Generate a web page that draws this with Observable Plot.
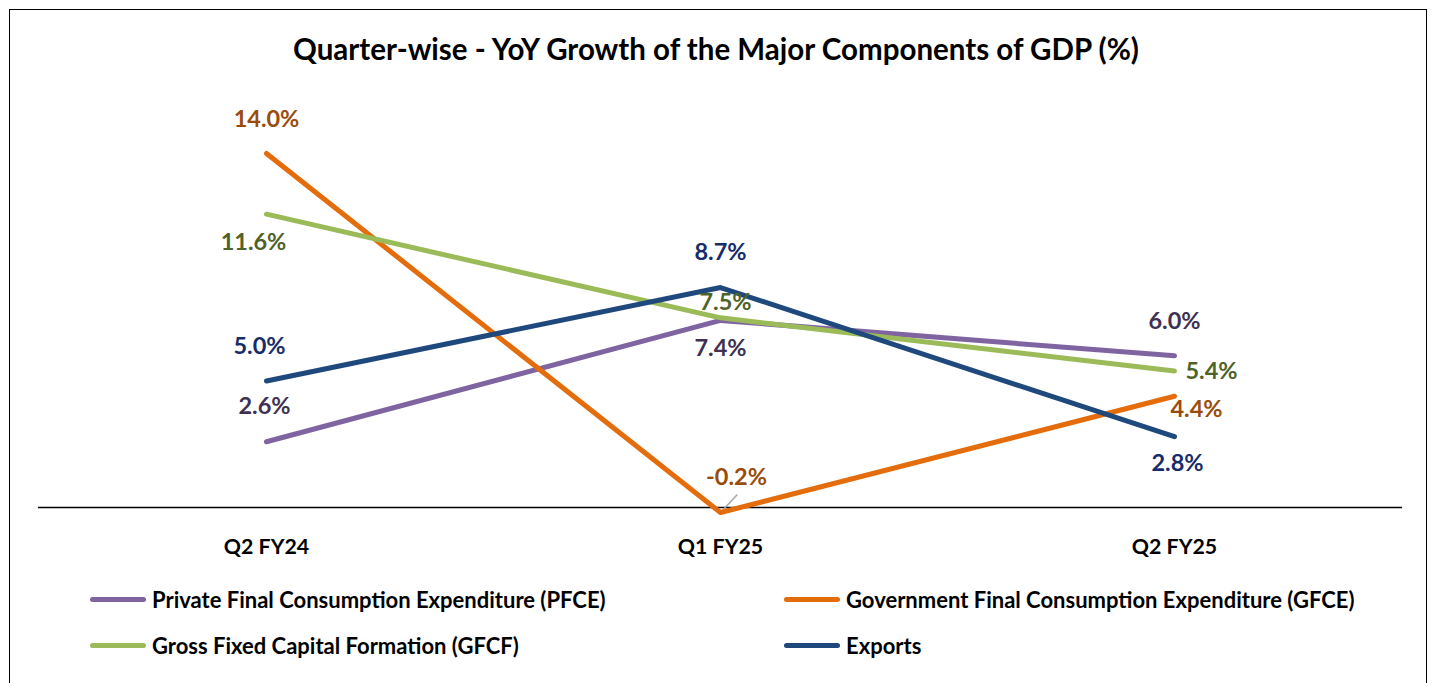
<!DOCTYPE html>
<html>
<head>
<meta charset="utf-8">
<script src="https://cdn.jsdelivr.net/npm/d3@7"></script>
<script src="https://cdn.jsdelivr.net/npm/@observablehq/plot@0.6"></script>
<style>
  html, body { margin: 0; padding: 0; background: #fff; }
  #wrap { position: relative; width: 1432px; height: 683px; overflow: hidden; font-family: Lato, "Open Sans", sans-serif; }
  #frame { position: absolute; left: 9px; top: 9px; width: 1418px; height: 720px; border: 1.5px solid #000; box-sizing: border-box; }
  #title { position: absolute; left: 0; width: 1432px; top: 31px; text-align: center; font-weight: 700; font-size: 29.5px; color: #000; }
  #chart { position: absolute; left: 0; top: 0; }
  .leg { position: absolute; display: flex; align-items: center; font-weight: 700; font-size: 22px; color: #000; }
  .sw { width: 56px; height: 5px; border-radius: 3px; margin-right: 6px; }
</style>
</head>
<body>
<div id="wrap">
  <div id="frame"></div>
  <div id="chart"></div>
  <div id="title"></div>
</div>
<script>
const titleText = "Quarter-wise - YoY Growth of the Major Components of GDP (%)";
const quarters = ["Q2 FY24", "Q1 FY25", "Q2 FY25"];
const seriesNames = [
  "Private Final Consumption Expenditure (PFCE)",
  "Government Final Consumption Expenditure (GFCE)",
  "Gross Fixed Capital Formation (GFCF)",
  "Exports"
];
const pfce = [2.6, 7.4, 6.0];
const gfce = [14.0, -0.2, 4.4];
const gfcf = [11.6, 7.5, 5.4];
const exportsVals = [5.0, 8.7, 2.8];

const lineColors = ["#8064A2", "#E46C0A", "#9BBB59", "#1F497D"];
const labelColors = ["#403152", "#9A4C0C", "#4F6228", "#172C6A"];
// label offsets in pixels (dx, dy) per series, per quarter
const labelOffsets = [
  [[-2, -35], [0, 28], [0, -34]],
  [[0, -34], [16, -35], [22, 13]],
  [[-13, 28], [5, -15], [37, 1]],
  [[-7, -35], [0, -35], [3, 27]]
];

const valuesBySeries = [pfce, gfce, gfcf, exportsVals];
const data = [];
valuesBySeries.forEach((vals, s) => {
  vals.forEach((v, i) => data.push({series: seriesNames[s], s, quarter: quarters[i], i, value: v}));
});

document.getElementById("title").textContent = titleText;

const labelMarks = data.map(d => Plot.text([d], {
  x: "quarter", y: "value",
  text: r => r.value.toFixed(1) + "%",
  dx: labelOffsets[d.s][d.i][0], dy: labelOffsets[d.s][d.i][1],
  fill: labelColors[d.s], fontSize: 23.5, fontWeight: 700,
  lineAnchor: "middle", textAnchor: "middle"
}));

const leader = Plot.vector(data.filter(d => d.s === 1 && d.i === 1), {
  x: "quarter", y: "value",
  length: 24, rotate: 43, anchor: "start",
  stroke: "#A6A6A6", strokeWidth: 1.5,
  shape: { draw(ctx, l) { ctx.moveTo(0, 0); ctx.lineTo(0, -l); } }
});

const plot = Plot.plot({
  width: 1432,
  height: 683,
  marginLeft: 38,
  marginRight: 30,
  marginTop: 153,
  marginBottom: 176,
  style: { fontFamily: "Lato, 'Open Sans', sans-serif", background: "transparent", overflow: "visible" },
  x: { type: "point", domain: quarters, padding: 0.5, label: null },
  y: { domain: [0, 14], axis: null },
  color: { domain: seriesNames, range: lineColors },
  marks: [
    Plot.ruleY([0], { stroke: "#000", strokeWidth: 1.3 }),
    Plot.axisX({ tickSize: 0, tickPadding: 31, fontSize: 21.3, fontWeight: 700, fill: "#000", label: null }),
    leader,
    ...[0, 1, 2, 3].map(s => Plot.line(data.filter(d => d.s === s), {
      x: "quarter", y: "value", stroke: lineColors[s], strokeWidth: 5,
      strokeLinecap: "round", strokeLinejoin: "round"
    })),
    ...labelMarks
  ]
});
document.getElementById("chart").appendChild(plot);

// legend
const legendPos = [
  {left: 90, top: 599}, {left: 784, top: 599},
  {left: 90, top: 645}, {left: 784, top: 645}
];
seriesNames.forEach((name, s) => {
  const el = document.createElement("div");
  el.className = "leg";
  el.style.left = legendPos[s].left + "px";
  el.style.top = (legendPos[s].top - 14) + "px";
  el.style.height = "28px";
  const sw = document.createElement("div");
  sw.className = "sw";
  sw.style.background = lineColors[s];
  const tx = document.createElement("span");
  tx.textContent = name;
  el.appendChild(sw); el.appendChild(tx);
  document.getElementById("wrap").appendChild(el);
});
</script>
</body>
</html>
